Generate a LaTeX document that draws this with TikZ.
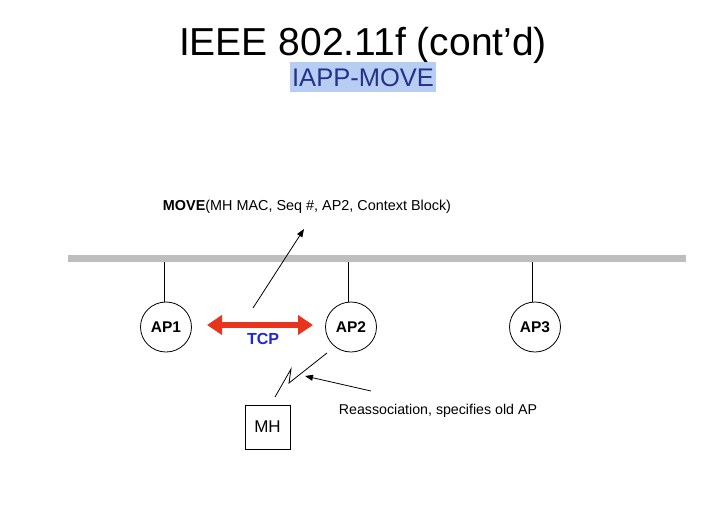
\documentclass[tikz,border=0pt]{standalone}
\usepackage{fontspec}
\setmainfont{Liberation Sans}
\usetikzlibrary{arrows.meta,shapes.geometric}
\definecolor{tcpred}{RGB}{232,52,28}
\definecolor{tcpblue}{RGB}{30,40,215}
\definecolor{subblue}{RGB}{35,50,140}
\definecolor{hilite}{RGB}{183,206,242}
\definecolor{bargray}{RGB}{190,190,190}

\begin{document}
\begin{tikzpicture}[
  x=1pt, y=-1pt,
  apnode/.style={ellipse, draw=black, line width=0.8pt, inner sep=0pt, minimum width=51pt, minimum height=50pt, font=\fontsize{15.5}{18}\selectfont\bfseries},
  mhnode/.style={rectangle, draw=black, line width=0.8pt, inner sep=0pt, minimum width=45pt, minimum height=44pt, font=\fontsize{17}{20}\selectfont},
  lbl/.style={inner sep=0pt, font=\fontsize{14.4}{17}\selectfont},
  thinarrow/.style={line width=0.8pt, -{Triangle[length=8pt,width=6pt]}}
]
  \useasboundingbox (0,0) rectangle (720,509);
  \fill[white] (0,0) rectangle (720,509);

  % Titulo
  \node[inner sep=0pt, anchor=base, font=\fontsize{39}{44}\selectfont] (title) at (363,55) {IEEE 802.11f (cont’d)};
  \node[fill=hilite, inner xsep=2pt, inner ysep=0pt, text height=24pt, text depth=6pt, anchor=base, text=subblue, font=\fontsize{25.5}{30}\selectfont] (sub) at (363,86) {IAPP-MOVE};

  % Red de distribucion
  \draw[bargray, line width=7pt] (68,258) -- (686,258);

  % Puntos de acceso
  \node[apnode] (ap1) at (166,327) {AP1};
  \node[apnode] (ap2) at (351,327) {AP2};
  \node[apnode] (ap3) at (535,327) {AP3};
  \coordinate (b1) at (164,262);
  \coordinate (b2) at (348,262);
  \coordinate (b3) at (532,262);
  \draw[line width=0.8pt] (b1) -- (b1 |- ap1.north);
  \draw[line width=0.8pt] (b2) -- (b2 |- ap2.north);
  \draw[line width=0.8pt] (b3) -- (b3 |- ap3.north);

  % TCP entre AP1 y AP2
  \coordinate (t1) at (207,325);
  \coordinate (t2) at (313,325);
  \draw[tcpred, line width=6pt, {Triangle[length=15pt,width=19pt]}-{Triangle[length=15pt,width=19pt]}] (t1) -- (t2);
  \node[lbl, text=tcpblue, font=\fontsize{16}{19}\selectfont\bfseries] (tcp) at (263,339) {TCP};

  % Mensaje MOVE
  \node[lbl] (move) at (307,207) {\textbf{MOVE}(MH MAC, Seq \#, AP2, Context Block)};
  \coordinate (m1) at (253,308);
  \coordinate (m2) at (304,229);
  \draw[thinarrow] (m1) -- (m2);

  % Nodo movil y enlace radio
  \node[mhnode] (mh) at (267.5,427) {MH};
  \coordinate (z1) at (275,397);
  \coordinate (z2) at (291,369);
  \coordinate (z3) at (289,383);
  \coordinate (z4) at (327,353);
  \draw[line width=0.8pt] (z1) -- (z2) -- (z3) -- (z4);

  % Reasociacion
  \node[lbl, font=\fontsize{14.2}{17}\selectfont] (reas) at (438,411) {Reassociation, specifies old AP};
  \coordinate (r1) at (371,391);
  \coordinate (r2) at (305,376);
  \draw[thinarrow] (r1) -- (r2);

\end{tikzpicture}
\end{document}
